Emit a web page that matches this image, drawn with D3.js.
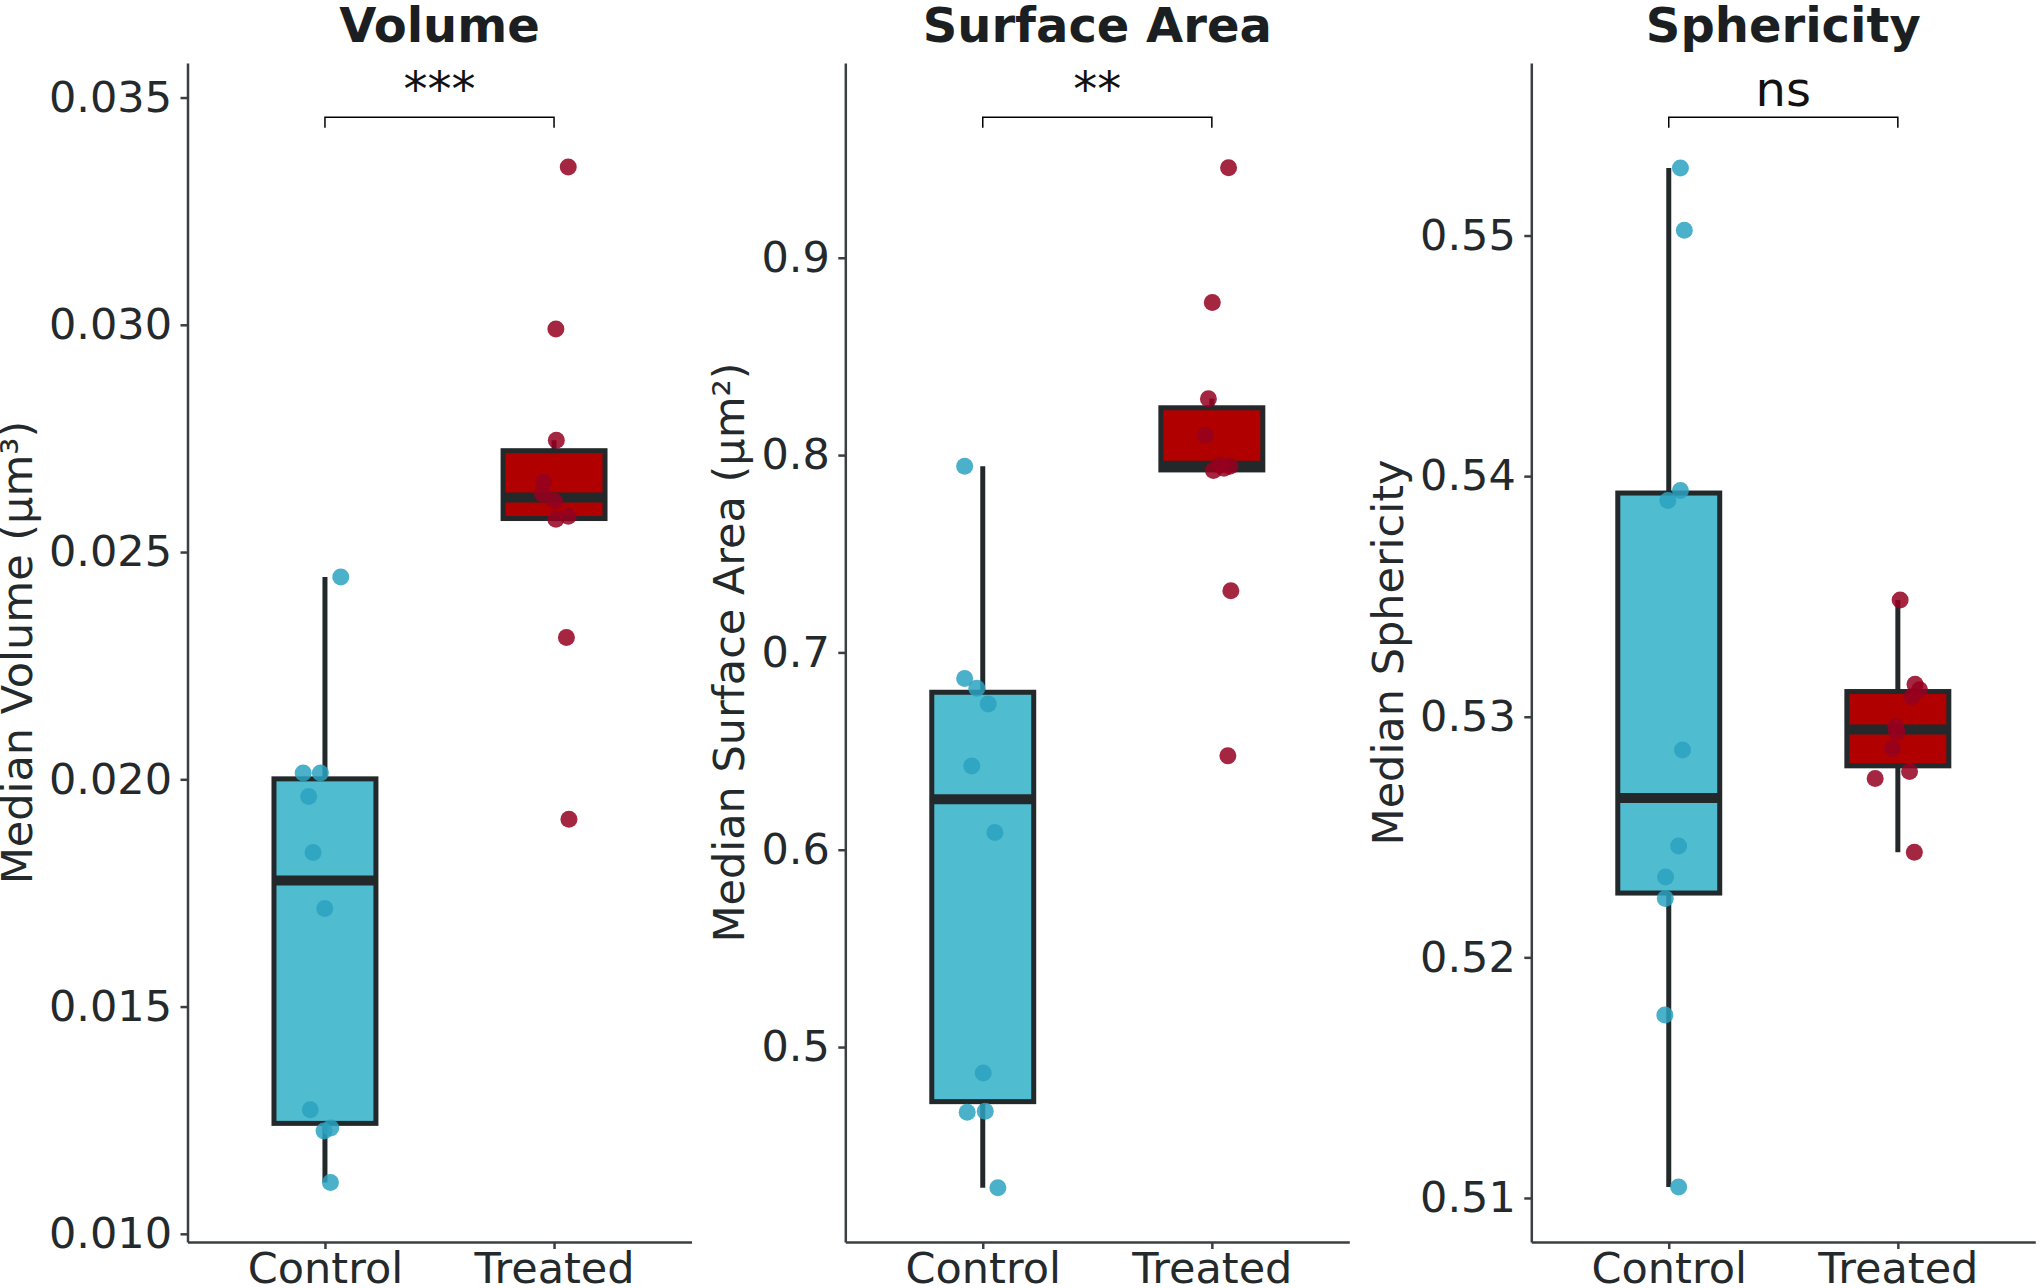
<!DOCTYPE html>
<html>
<head>
<meta charset="utf-8">
<script src="https://cdn.jsdelivr.net/npm/d3@7"></script>
<style>
body { margin: 0; background: #fff; }
svg { display: block; font-family: "DejaVu Sans", sans-serif; }
</style>
</head>
<body>
<div id="chart"></div>
<script>
var groups = ["Control", "Treated"];
var titles = ["Volume", "Surface Area", "Sphericity"];
var yLabels = ["Median Volume (µm³)", "Median Surface Area (µm²)", "Median Sphericity"];
var sigLabels = ["***", "**", "ns"];

// one value per sample, jitter is the horizontal offset of the dot (category units)
var volumeControl = [0.02445, 0.02014, 0.02014, 0.01962, 0.01839, 0.01716, 0.01273, 0.01226, 0.01233, 0.01113];
var volumeControlJitter = [0.069, -0.095, -0.020, -0.071, -0.052, -0.001, -0.064, -0.004, 0.025, 0.024];
var volumeTreated = [0.03347, 0.02991, 0.02746, 0.02654, 0.02628, 0.02612, 0.02572, 0.02579, 0.02312, 0.01912];
var volumeTreatedJitter = [0.062, 0.008, 0.010, -0.046, -0.050, 0.002, 0.008, 0.062, 0.054, 0.065];

var areaControl = [0.7943, 0.6868, 0.6818, 0.6738, 0.6424, 0.6087, 0.4868, 0.4669, 0.4675, 0.4287];
var areaControlJitter = [-0.079, -0.079, -0.026, 0.024, -0.048, 0.053, 0.002, -0.068, 0.011, 0.066];
var areaTreated = [0.9456, 0.8773, 0.8286, 0.8101, 0.7922, 0.7933, 0.7943, 0.7950, 0.7313, 0.6476];
var areaTreatedJitter = [0.073, 0.002, -0.015, -0.028, 0.007, 0.053, 0.079, 0.035, 0.083, 0.070];

var sphControl = [0.55281, 0.55022, 0.5394, 0.53899, 0.52862, 0.52463, 0.52334, 0.52245, 0.5176, 0.51046];
var sphControlJitter = [0.051, 0.068, 0.051, -0.004, 0.060, 0.043, -0.014, -0.015, -0.017, 0.043];
var sphTreated = [0.53485, 0.53135, 0.53112, 0.53083, 0.52958, 0.52937, 0.52868, 0.52772, 0.52743, 0.52437];
var sphTreatedJitter = [0.010, 0.075, 0.095, 0.061, -0.010, -0.004, -0.023, 0.051, -0.099, 0.072];

var volumeTicks = [0.010, 0.015, 0.020, 0.025, 0.030, 0.035];
var areaTicks = [0.5, 0.6, 0.7, 0.8, 0.9];
var sphTicks = [0.51, 0.52, 0.53, 0.54, 0.55];

var volumeDomain = [0.00982, 0.03576];
var areaDomain = [0.4012, 0.9987];
var sphDomain = [0.50817, 0.55717];

var panels = [
    {values: [volumeControl, volumeTreated], jitter: [volumeControlJitter, volumeTreatedJitter], ticks: volumeTicks, domain: volumeDomain, fmt: ".3f"},
    {values: [areaControl, areaTreated], jitter: [areaControlJitter, areaTreatedJitter], ticks: areaTicks, domain: areaDomain, fmt: ".1f"},
    {values: [sphControl, sphTreated], jitter: [sphControlJitter, sphTreatedJitter], ticks: sphTicks, domain: sphDomain, fmt: ".2f"}
];

var W = 2040, H = 1288;
var plotTop = 63, plotBottom = 1242;
var plotH = plotBottom - plotTop;
var lefts = [187.5, 845.3, 1531.3];
var plotW = 504;
var boxWidth = 0.445;
var fills = ["#50bcd0", "#b00000"];
var dots = ["#2ba2bf", "#95001f"];
var edge = "#23292b";
var axisColor = "#3a3f42";
var textColor = "#24292c";

function boxStats(v) {
    var s = v.slice().sort(d3.ascending);
    var q1 = d3.quantileSorted(s, 0.25), med = d3.quantileSorted(s, 0.5), q3 = d3.quantileSorted(s, 0.75);
    var iqr = q3 - q1;
    var lo = d3.min(s.filter(d => d >= q1 - 1.5 * iqr));
    var hi = d3.max(s.filter(d => d <= q3 + 1.5 * iqr));
    return {q1: q1, med: med, q3: q3, lo: lo, hi: hi};
}

var svg = d3.select("#chart").append("svg").attr("width", W).attr("height", H);

panels.forEach(function(p, pi) {
    var g = svg.append("g").attr("transform", "translate(" + lefts[pi] + "," + plotTop + ")");
    var x = d3.scaleLinear().domain([-0.6, 1.6]).range([0, plotW]);
    var y = d3.scaleLinear().domain(p.domain).range([plotH, 0]);

    // boxes
    groups.forEach(function(grp, gi) {
        var st = boxStats(p.values[gi]);
        var x0 = x(gi - boxWidth / 2), x1 = x(gi + boxWidth / 2);
        g.append("line").attr("x1", x(gi)).attr("x2", x(gi)).attr("y1", y(st.q3)).attr("y2", y(st.hi))
            .attr("stroke", edge).attr("stroke-width", 5);
        g.append("line").attr("x1", x(gi)).attr("x2", x(gi)).attr("y1", y(st.q1)).attr("y2", y(st.lo))
            .attr("stroke", edge).attr("stroke-width", 5);
        g.append("rect").attr("x", x0).attr("y", y(st.q3)).attr("width", x1 - x0).attr("height", y(st.q1) - y(st.q3))
            .attr("fill", fills[gi]).attr("stroke", edge).attr("stroke-width", 5);
        g.append("line").attr("x1", x0).attr("x2", x1).attr("y1", y(st.med)).attr("y2", y(st.med))
            .attr("stroke", edge).attr("stroke-width", 10);
    });

    // dots
    groups.forEach(function(grp, gi) {
        g.selectAll(".dot" + gi).data(p.values[gi]).enter().append("circle")
            .attr("class", "dot" + gi)
            .attr("cx", (d, i) => x(gi + p.jitter[gi][i]))
            .attr("cy", d => y(d))
            .attr("r", 8.5)
            .attr("fill", dots[gi])
            .attr("fill-opacity", 0.85);
    });

    // axes
    var ya = g.append("g").call(d3.axisLeft(y).tickValues(p.ticks).tickFormat(d3.format(p.fmt)).tickSize(7).tickPadding(8.5).tickSizeOuter(0));
    var xa = g.append("g").attr("transform", "translate(0," + plotH + ")")
        .call(d3.axisBottom(x).tickValues([0, 1]).tickFormat(i => groups[i]).tickSize(7).tickSizeOuter(0));
    [ya, xa].forEach(function(a) {
        a.select(".domain").attr("stroke", axisColor).attr("stroke-width", 2.5);
        a.selectAll(".tick line").attr("stroke", axisColor).attr("stroke-width", 2.5);
        a.selectAll(".tick text").attr("fill", textColor).style("font-size", "43px").style("font-family", "DejaVu Sans");
    });
    xa.selectAll(".tick text").attr("y", 41).attr("dy", 0);

    var minX = d3.min(ya.selectAll(".tick text").nodes(), n => n.getBBox().x);

    g.append("text").attr("transform", "rotate(-90)")
        .attr("x", -plotH / 2).attr("y", minX - 17)
        .attr("text-anchor", "middle").attr("fill", textColor)
        .style("font-size", "43px")
        .text(yLabels[pi]);

    g.append("text").attr("x", plotW / 2).attr("y", 41.5 - plotTop)
        .attr("text-anchor", "middle").attr("fill", "#1b1f21")
        .style("font-size", "48px").style("font-weight", "bold")
        .text(titles[pi]);

    // significance bracket
    var by = 117.3 - plotTop;
    g.append("path")
        .attr("d", "M" + x(0) + "," + (by + 10.4) + "V" + by + "H" + x(1) + "V" + (by + 10.4))
        .attr("fill", "none").attr("stroke", "#000").attr("stroke-width", 1.5);
    g.append("text").attr("x", (x(0) + x(1)) / 2).attr("y", 106 - plotTop)
        .attr("text-anchor", "middle").attr("fill", "#111")
        .style("font-size", "48px")
        .text(sigLabels[pi]);
});
</script>
</body>
</html>
